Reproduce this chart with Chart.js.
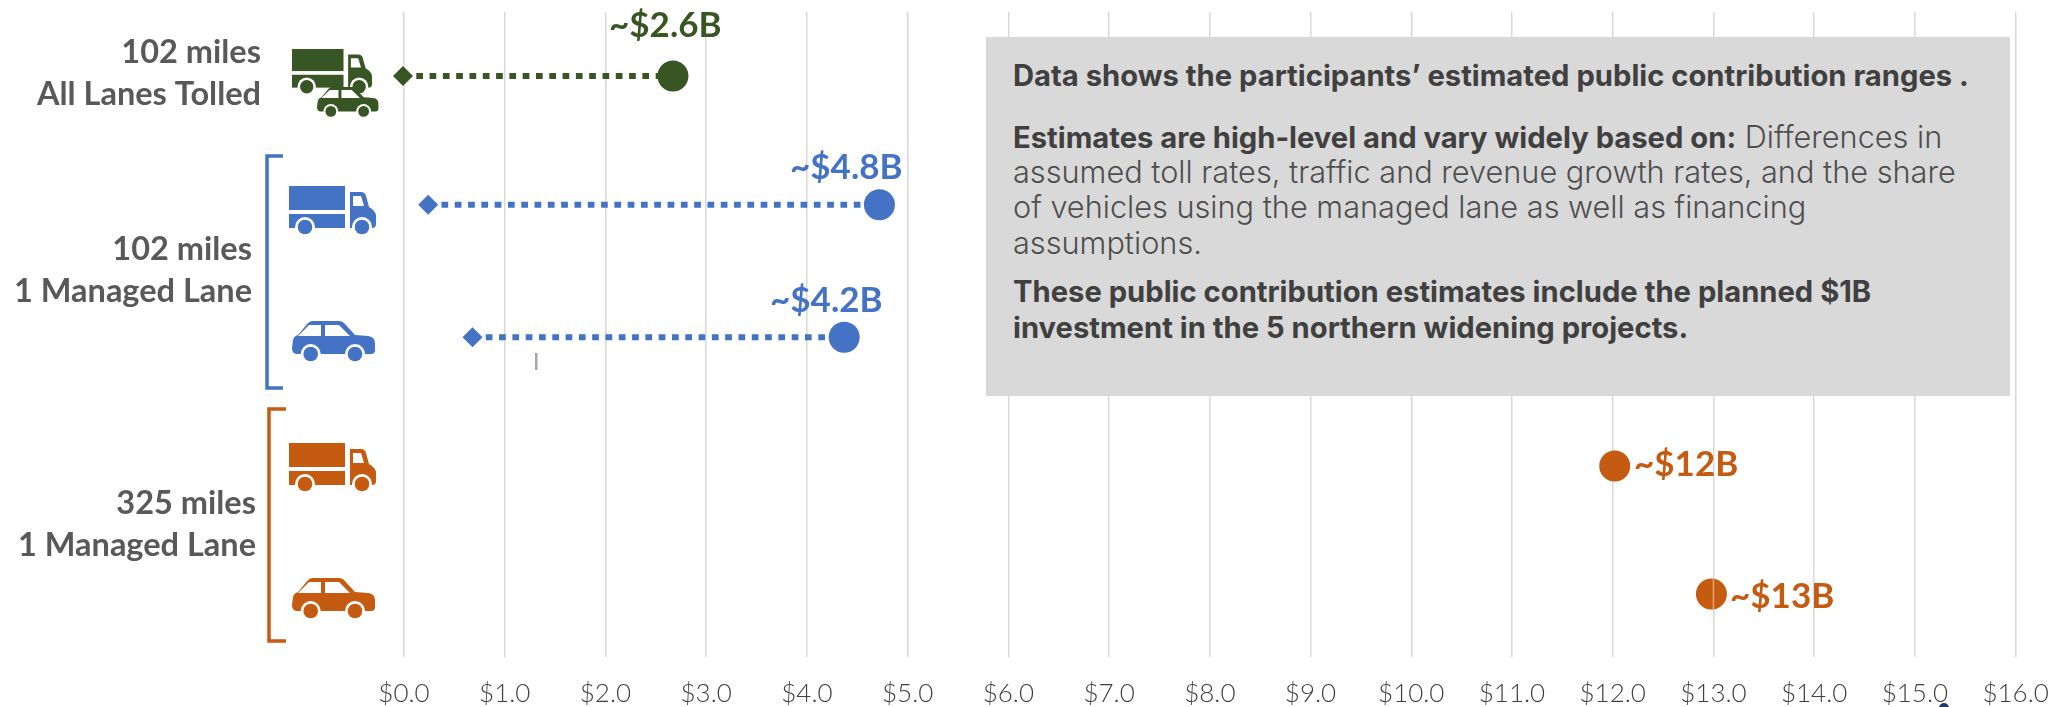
<!DOCTYPE html>
<html>
<head>
<meta charset="utf-8">
<title>Public contribution ranges</title>
<script src="https://cdn.jsdelivr.net/npm/chart.js@4"></script>
<style>
  html, body { margin: 0; padding: 0; background: #fff; }
  #wrap { position: relative; width: 2067px; height: 707px; overflow: hidden; }
  #note {
    position: absolute; left: 986px; top: 37px; width: 1024px; height: 359px;
    background: #d9d9d9; color: #4f4f4f; font-family: Inter, sans-serif; font-size: 30.7px;
  }
  #note div { position: absolute; left: 27px; white-space: nowrap; line-height: 36px; font-weight: 300; }
  #note b { font-weight: 700; font-size: 29.2px; color: #404040; }
</style>
</head>
<body>
<div id="wrap">
  <canvas id="chart" width="2067" height="707"></canvas>
  <div id="note">
    <div style="top:20px"><b>Data shows the participants’ estimated public contribution ranges .</b></div>
    <div style="top:82px"><b>Estimates are high-level and vary widely based on:</b> Differences in</div>
    <div style="top:117px">assumed toll rates, traffic and revenue growth rates, and the share</div>
    <div style="top:152px">of vehicles using the managed lane as well as financing</div>
    <div style="top:188px">assumptions.</div>
    <div style="top:236px"><b>These public contribution estimates include the planned $1B</b></div>
    <div style="top:272px"><b>investment in the 5 northern widening projects.</b></div>
  </div>
</div>
<script>
// $ billions, one row per scenario, top to bottom
const rows = [0, 0.99, 2.01, 3, 3.985];
const lowEnd = [-0.01, 0.24, 0.68, null, null];
const highEnd = [2.67, 4.72, 4.37, 12.02, 12.98];
const valueLabels = ['~$2.6B', '~$4.8B', '~$4.2B', '~$12B', '~$13B'];
const tickLabels = ['$0.0', '$1.0', '$2.0', '$3.0', '$4.0', '$5.0', '$6.0', '$7.0', '$8.0',
  '$9.0', '$10.0', '$11.0', '$12.0', '$13.0', '$14.0', '$15.0', '$16.0'];

const GREEN = '#375623';
const BLUE = '#4472c4';
const ORANGE = '#c55a11';
const rowColors = [GREEN, BLUE, BLUE, ORANGE, ORANGE];

const datasets = rows.map(function (rowPos, r) {
  const pts = [];
  const styles = [];
  const radii = [];
  if (lowEnd[r] !== null) {
    pts.push({ x: lowEnd[r], y: rowPos });
    styles.push('rectRot');
    radii.push(10);
  }
  pts.push({ x: highEnd[r], y: rowPos });
  styles.push('circle');
  radii.push(15.5);
  return {
    label: valueLabels[r],
    data: pts,
    showLine: true,
    clip: false,
    borderColor: rowColors[r],
    backgroundColor: rowColors[r],
    borderWidth: 6,
    borderDash: [6.7, 6.6],
    pointStyle: styles,
    pointRadius: radii,
    pointBorderWidth: 0
  };
});

function drawTruck(ctx, x, y, s, color) {
  ctx.save();
  ctx.translate(x, y);
  ctx.scale(s, s);
  ctx.fillStyle = color;
  ctx.fillRect(0, 0, 56, 24);
  ctx.fillRect(0, 28, 56, 14);
  ctx.beginPath();
  ctx.moveTo(61, 6);
  ctx.lineTo(72, 6);
  ctx.quadraticCurveTo(76, 6, 77, 10);
  ctx.lineTo(80, 21);
  ctx.quadraticCurveTo(87, 25, 87, 30);
  ctx.lineTo(87, 38);
  ctx.quadraticCurveTo(87, 42, 83, 42);
  ctx.lineTo(61, 42);
  ctx.closePath();
  ctx.fill();
  ctx.fillStyle = '#fff';
  ctx.beginPath();
  ctx.moveTo(64, 10);
  ctx.lineTo(72, 10);
  ctx.lineTo(75, 20);
  ctx.lineTo(64, 20);
  ctx.closePath();
  ctx.fill();
  [16, 73].forEach(function (cx) {
    ctx.fillStyle = '#fff';
    ctx.beginPath();
    ctx.arc(cx, 41, 10, 0, Math.PI * 2);
    ctx.fill();
    ctx.fillStyle = color;
    ctx.beginPath();
    ctx.arc(cx, 41, 7.3, 0, Math.PI * 2);
    ctx.fill();
  });
  ctx.restore();
}

function drawCar(ctx, x, y, s, color) {
  ctx.save();
  ctx.translate(x, y);
  ctx.scale(s, s);
  ctx.fillStyle = color;
  ctx.beginPath();
  ctx.moveTo(1, 19);
  ctx.quadraticCurveTo(2, 15, 6, 14);
  ctx.lineTo(16, 2);
  ctx.quadraticCurveTo(18, 0, 21, 0);
  ctx.lineTo(47, 0);
  ctx.quadraticCurveTo(50, 0, 52, 2);
  ctx.lineTo(63, 14);
  ctx.lineTo(76, 15);
  ctx.quadraticCurveTo(83, 16, 83, 22);
  ctx.lineTo(83, 29);
  ctx.quadraticCurveTo(83, 33, 79, 33);
  ctx.lineTo(4, 33);
  ctx.quadraticCurveTo(0, 32, 0, 27);
  ctx.closePath();
  ctx.fill();
  ctx.fillStyle = '#fff';
  ctx.beginPath();
  ctx.moveTo(6, 15);
  ctx.lineTo(17, 4);
  ctx.lineTo(29, 4);
  ctx.lineTo(29, 15);
  ctx.closePath();
  ctx.moveTo(33, 4);
  ctx.lineTo(47, 4);
  ctx.lineTo(58, 15);
  ctx.lineTo(33, 15);
  ctx.closePath();
  ctx.fill();
  [18.7, 63].forEach(function (cx) {
    ctx.fillStyle = '#fff';
    ctx.beginPath();
    ctx.arc(cx, 33, 10, 0, Math.PI * 2);
    ctx.fill();
    ctx.fillStyle = color;
    ctx.beginPath();
    ctx.arc(cx, 33, 7.3, 0, Math.PI * 2);
    ctx.fill();
  });
  ctx.restore();
}

function drawBracket(ctx, x, top, bottom, reach, color) {
  ctx.strokeStyle = color;
  ctx.lineWidth = 3.5;
  ctx.beginPath();
  ctx.moveTo(x + reach, top);
  ctx.lineTo(x, top);
  ctx.lineTo(x, bottom);
  ctx.lineTo(x + reach, bottom);
  ctx.stroke();
}

const decorations = {
  id: 'decorations',
  afterDatasetsDraw(chart) {
    const ctx = chart.ctx;
    const xs = chart.scales.x;
    const ys = chart.scales.y;
    const rowY = rows.map(function (r) { return ys.getPixelForValue(r); });
    ctx.save();

    // gridline showing through the last dot
    ctx.strokeStyle = '#e3a67c';
    ctx.lineWidth = 1.5;
    ctx.beginPath();
    ctx.moveTo(xs.getPixelForValue(13), rowY[4] - 15);
    ctx.lineTo(xs.getPixelForValue(13), rowY[4] + 15);
    ctx.stroke();

    // group labels
    ctx.font = '700 32.5px Lato, sans-serif';
    ctx.fillStyle = '#595959';
    ctx.textAlign = 'right';
    ctx.textBaseline = 'middle';
    ctx.fillText('102 miles', 261, 53);
    ctx.fillText('All Lanes Tolled', 261, 95);
    ctx.fillText('102 miles', 252, 250);
    ctx.fillText('1 Managed Lane', 252, 292);
    ctx.fillText('325 miles', 256, 504);
    ctx.fillText('1 Managed Lane', 256, 546);

    drawBracket(ctx, 267, 156, 388, 16, BLUE);
    drawBracket(ctx, 269, 409, 641, 17, ORANGE);

    // vehicles
    drawTruck(ctx, 292, 49, 0.92, GREEN);
    drawCar(ctx, 317, 87, 0.74, GREEN);
    drawTruck(ctx, 289, 186, 1, BLUE);
    drawCar(ctx, 292, 321, 1, BLUE);
    drawTruck(ctx, 289, 443, 1, ORANGE);
    drawCar(ctx, 292, 578, 1, ORANGE);

    // value labels
    ctx.font = '700 35px Lato, sans-serif';
    ctx.textAlign = 'left';
    const labelPos = [[609, 26], [790, 168], [770, 301], [1634, 465], [1730, 597]];
    rows.forEach(function (rowPos, r) {
      ctx.fillStyle = rowColors[r];
      ctx.fillText(valueLabels[r], labelPos[r][0], labelPos[r][1]);
    });

    // stray marks left over in the original slide
    ctx.fillStyle = '#a6a6a6';
    ctx.fillRect(535, 353, 2.5, 17);
    ctx.fillStyle = '#1f3864';
    ctx.beginPath();
    ctx.arc(1944, 708, 5, 0, Math.PI * 2);
    ctx.fill();
    ctx.restore();
  }
};

new Chart(document.getElementById('chart').getContext('2d'), {
  type: 'scatter',
  data: { datasets: datasets },
  plugins: [decorations],
  options: {
    responsive: false,
    animation: false,
    layout: { autoPadding: false, padding: { left: 404, right: 51.4, top: 12, bottom: 0 } },
    plugins: { legend: { display: false }, tooltip: { enabled: false } },
    scales: {
      x: {
        type: 'linear',
        min: 0,
        max: 16,
        afterFit(scale) {
          scale.height = 50;
          scale.paddingLeft = 0;
          scale.paddingRight = 0;
        },
        afterBuildTicks(scale) {
          scale.ticks = tickLabels.map(function (t, i) { return { value: i }; });
        },
        grid: { color: '#d9d9d9', lineWidth: 1.5, drawTicks: false },
        border: { display: false },
        ticks: {
          autoSkip: false,
          maxRotation: 0,
          padding: 21,
          color: '#404040',
          font: { family: 'Lato, sans-serif', size: 26, weight: 300 },
          callback(value, i) { return tickLabels[i]; }
        }
      },
      y: {
        type: 'linear',
        reverse: true,
        min: -0.492,
        max: 4.469,
        display: false
      }
    }
  }
});
</script>
</body>
</html>
